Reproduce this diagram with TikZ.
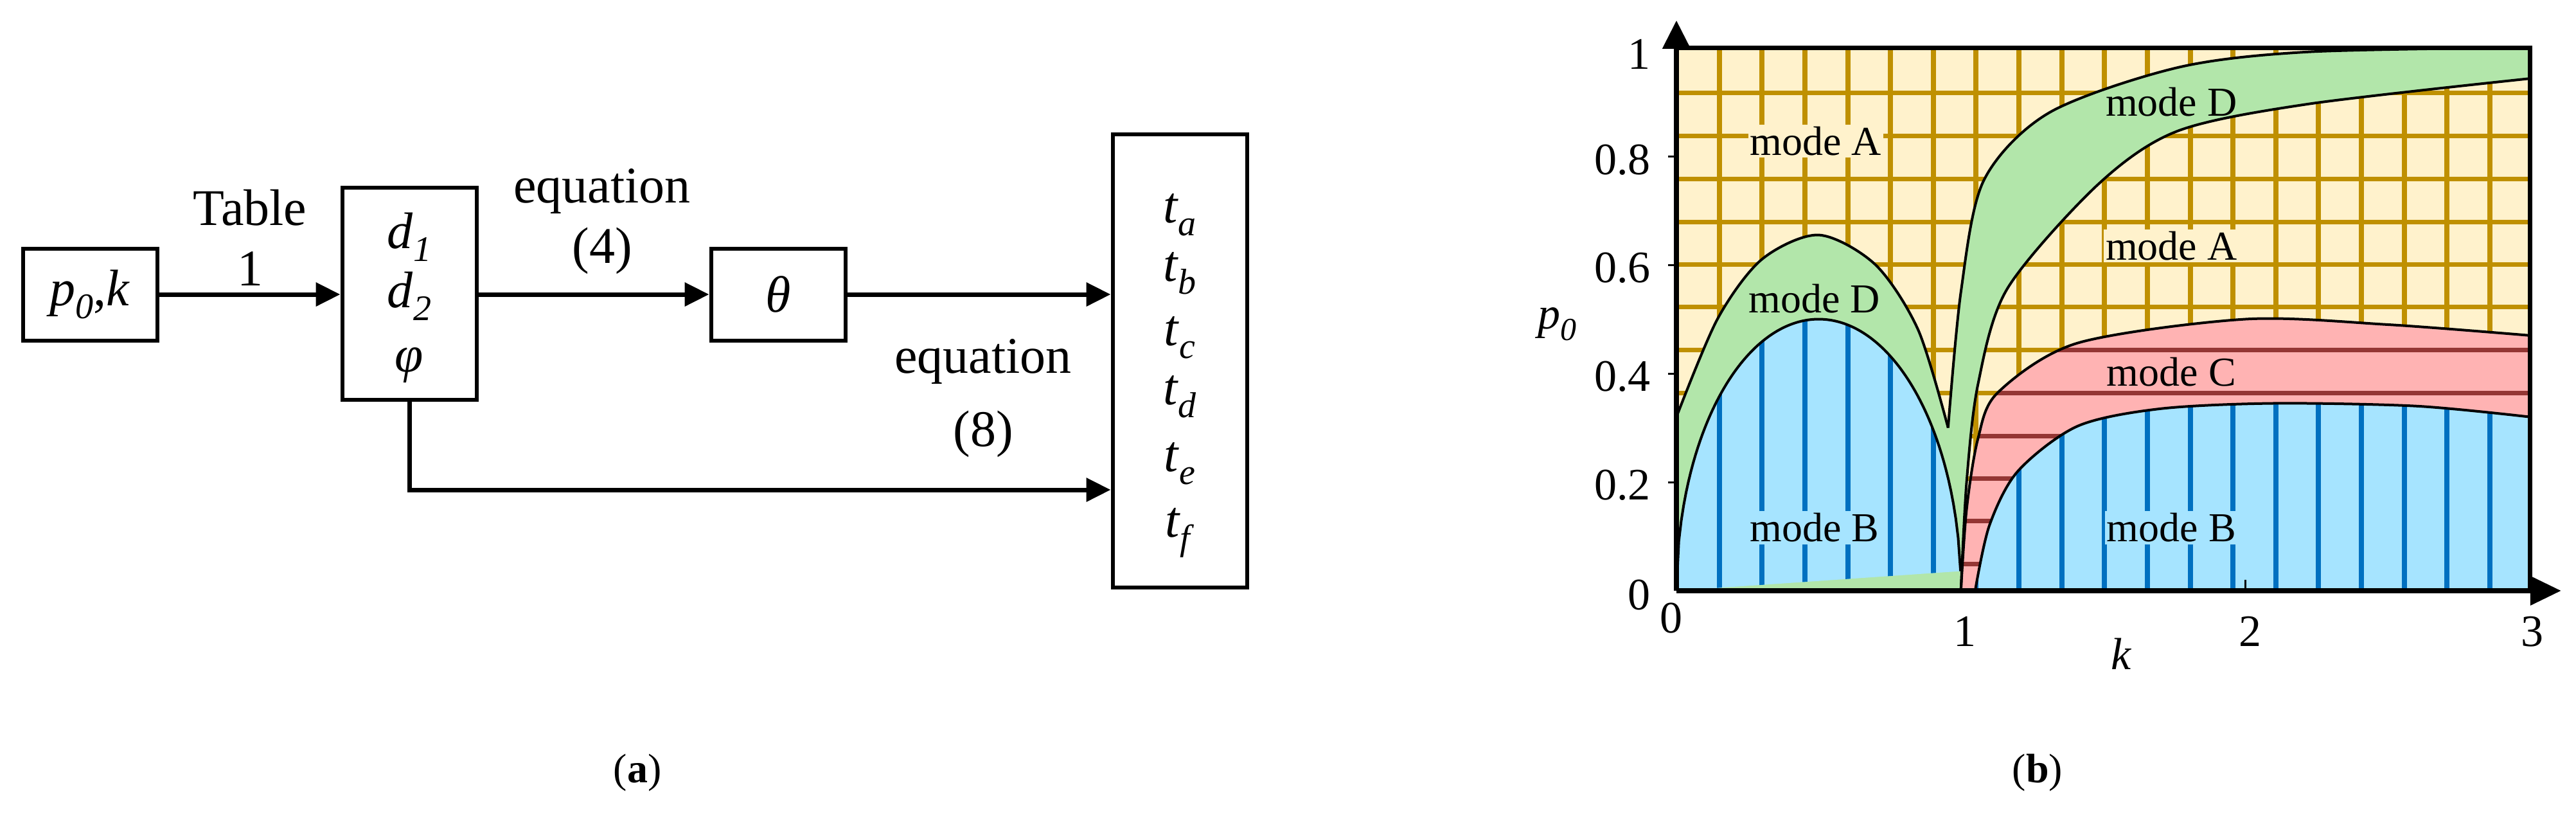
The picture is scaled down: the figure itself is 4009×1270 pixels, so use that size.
\documentclass[tikz,border=0pt]{standalone}
\usepackage{fontspec}
\setmainfont{Liberation Serif}
\usetikzlibrary{arrows.meta}
\newcommand\sbs[1]{\raisebox{-0.25em}{\fontsize{56}{60}\selectfont\textit{#1}}}
\definecolor{ylw}{HTML}{FFF2CC}
\definecolor{gridc}{HTML}{BF9000}
\definecolor{grn}{HTML}{B2E6AA}
\definecolor{pnk}{HTML}{FFB3B3}
\definecolor{blu}{HTML}{A6E4FF}
\definecolor{bline}{HTML}{0070C0}
\definecolor{rline}{HTML}{943634}
\tikzset{
  blk/.style={draw, line width=6pt, minimum width=209pt, inner sep=0pt, font=\fontsize{80}{90}\selectfont},
  arr/.style={line width=7pt, -{Triangle[length=38pt,width=36pt]}},
  lbl/.style={font=\fontsize{80}{90}\selectfont, inner sep=0pt},
  tk/.style={font=\fontsize{70}{80}\selectfont, inner sep=0pt},
  md/.style={font=\fontsize{64}{70}\selectfont, inner sep=3pt},
  crv/.style={line width=4pt, black, smooth},
}
\begin{document}
\begin{tikzpicture}[x=1pt,y=-1pt]
\useasboundingbox (0,0) rectangle (4009,1270);
% ---------- panel (a)
\node[blk, minimum height=143pt] (pk) at (140,458) {\textit{p}\sbs{0},\textit{k}};
\node[blk, minimum height=330pt] (d) at (637,457) {};
\node[blk, minimum height=143pt] (th) at (1211,458) {\textit{θ}};
\node[blk, minimum height=705pt] (t) at (1836,561) {};
\node[lbl] (d1) at (637,369) {\textit{d}\sbs{1}};
\node[lbl] (d2) at (637,461) {\textit{d}\sbs{2}};
\node[lbl] (ph) at (637,568) {\textit{φ}};
\foreach \s/\yy in {a/334,b/425,c/525,d/617,e/721,f/829}
  \node[lbl] (t\s) at (1836,\yy) {\textit{t}\sbs{\s}};
\node[lbl] (tab) at (389,323) {Table};
\node[lbl] (tab1) at (389,418) {1};
\node[lbl] (eq4) at (937,298) {equation};
\node[lbl] (eq4n) at (937,390) {(4)};
\node[lbl] (eq8) at (1530,563) {equation};
\node[lbl] (eq8n) at (1530,675) {(8)};
\coordinate (low) at (0,762);
\draw[arr] (pk.east) -- (pk.east -| d.west);
\draw[arr] (th.west -| d.east) -- (th.west);
\draw[arr] (th.east) -- (th.east -| t.west);
\draw[arr] (d.south) |- (low -| t.west);
\node[font=\fontsize{64}{70}\selectfont] (capa) at (992,1202) {(\textbf{a})};
\node[font=\fontsize{64}{70}\selectfont] (capb) at (3171,1202) {(\textbf{b})};
% ---------- panel (b)
\begin{scope}[shift={(2609,919)}, x=442.7pt, y=845pt]
  \def\gridlines{%
    \foreach \i in {1,...,19} \draw[gridc, line width=8pt] ({0.1505*\i},0) -- ({0.1505*\i},1);
    \foreach \h in {0.916,0.837,0.758,0.679,0.601,0.522,0.443,0.364,0.285,0.207,0.128,0.049}
      \draw[gridc, line width=7pt] (0,\h) -- (3,\h);}
  \fill[ylw] (0,0) rectangle (3,1);
  \begin{scope}\clip (0,0) rectangle (3,1); \gridlines \end{scope}
  % green
  \fill[grn] (0,0) -- plot[smooth] coordinates {(0,0.32) (0.144,0.5) (0.3,0.61) (0.5,0.655) (0.7,0.6) (0.85,0.48) (0.955,0.3)}
     -- plot[smooth] coordinates {(0.955,0.3) (1.0,0.55) (1.08,0.755) (1.31,0.88) (1.76,0.963) (2.22,0.992) (3,1.0)} -- (3,0) -- cycle;
  % yellow under L2
  \begin{scope}
    \clip plot[smooth] coordinates {(1,0) (1.02,0.2) (1.06,0.38) (1.163,0.556) (1.48,0.747) (1.76,0.846) (2.22,0.896) (3,0.943)} -- (3,0) -- cycle;
    \fill[ylw] (0,0) rectangle (3,1);
    \gridlines
  \end{scope}
  % pink
  \begin{scope}
    \clip plot[smooth] coordinates {(1,0) (1.02,0.15) (1.06,0.28) (1.13,0.365) (1.41,0.456) (2,0.5) (2.5,0.49) (3,0.47)} -- (3,0) -- cycle;
    \fill[pnk] (0,0) rectangle (3,1);
    \foreach \h in {0.443,0.364,0.285,0.207,0.128,0.049}
      \draw[rline, line width=7pt] (0,\h) -- (3,\h);
  \end{scope}
  % blue
  \begin{scope}
    \clip plot[domain=0:1, samples=120] (\x,{sqrt(max(\x*(1-\x),0))}) -- cycle
          plot[smooth] coordinates {(1.05,0) (1.1,0.12) (1.2,0.22) (1.41,0.303) (1.7,0.335) (2.1,0.345) (2.6,0.34) (3,0.32)} -- (3,0) -- cycle;
    \fill[blu] (0,0) rectangle (3,1);
    \foreach \i in {1,...,19} \draw[bline, line width=8pt] ({0.1505*\i},0) -- ({0.1505*\i},1);
  \end{scope}
  % labels
  \node[md, fill=ylw] (mA1) at (0.49,0.828) {mode A};
  \node[md] (mD2) at (1.74,0.9) {mode D};
  \node[md, fill=ylw] (mA2) at (1.74,0.635) {mode A};
  \node[md] (mD1) at (0.485,0.538) {mode D};
  \node[md, fill=pnk] (mC) at (1.74,0.403) {mode C};
  \node[md, fill=blu] (mB1) at (0.485,0.116) {mode B};
  \node[md, fill=blu] (mB2) at (1.74,0.116) {mode B};
  % curves
  \draw[crv] plot coordinates {(0,0.32) (0.144,0.5) (0.3,0.61) (0.5,0.655) (0.7,0.6) (0.85,0.48) (0.955,0.3)};
  \draw[crv] plot coordinates {(0.955,0.3) (1.0,0.55) (1.08,0.755) (1.31,0.88) (1.76,0.963) (2.22,0.992) (3,1.0)};
  \draw[crv] plot coordinates {(1,0) (1.02,0.2) (1.06,0.38) (1.163,0.556) (1.48,0.747) (1.76,0.846) (2.22,0.896) (3,0.943)};
  \draw[crv] plot coordinates {(1,0) (1.02,0.15) (1.06,0.28) (1.13,0.365) (1.41,0.456) (2,0.5) (2.5,0.49) (3,0.47)};
  \draw[crv] plot coordinates {(1.05,0) (1.1,0.12) (1.2,0.22) (1.41,0.303) (1.7,0.335) (2.1,0.345) (2.6,0.34) (3,0.32)};
  \draw[line width=4pt] plot[domain=0:1, samples=120] (\x,{sqrt(max(\x*(1-\x),0))});
  % frame and axes
  \coordinate (O) at (0,0);
  \coordinate (xe) at (3.11,0);
  \coordinate (ye) at (0,1.05);
  \draw[line width=7pt] (0,1) -- (3,1) -- (3,0);
  \draw[line width=8pt, -{Triangle[length=48pt,width=44pt]}] (O) -- (xe);
  \draw[line width=8pt, -{Triangle[length=44pt,width=42pt]}] (O) -- (ye);
  \foreach \v in {0.2,0.4,0.6,0.8} \draw[line width=3pt] (0,\v) -- (-0.03,\v);
  \draw[line width=3pt] (2,0) -- (2,0.02);
  \node[tk, anchor=east] (y1) at (-0.09,0.988) {1};
  \node[tk, anchor=east] (y8) at (-0.09,0.793) {0.8};
  \node[tk, anchor=east] (y6) at (-0.09,0.594) {0.6};
  \node[tk, anchor=east] (y4) at (-0.09,0.394) {0.4};
  \node[tk, anchor=east] (y2) at (-0.09,0.195) {0.2};
  \node[tk, anchor=east] (y0) at (-0.09,-0.008) {0};
  \node[tk] (x0) at (-0.018,-0.05) {0};
  \node[tk] (x1) at (1.014,-0.075) {1};
  \node[tk] (x2) at (2.017,-0.075) {2};
  \node[tk] (x3) at (3.009,-0.075) {3};
  \node[tk] (pl) at (-0.418,0.491) {\textit{p}\raisebox{-0.25em}{\fontsize{50}{55}\selectfont\textit{0}}};
  \node[tk] (kl) at (1.565,-0.116) {\textit{k}};
\end{scope}
\end{tikzpicture}
\end{document}
